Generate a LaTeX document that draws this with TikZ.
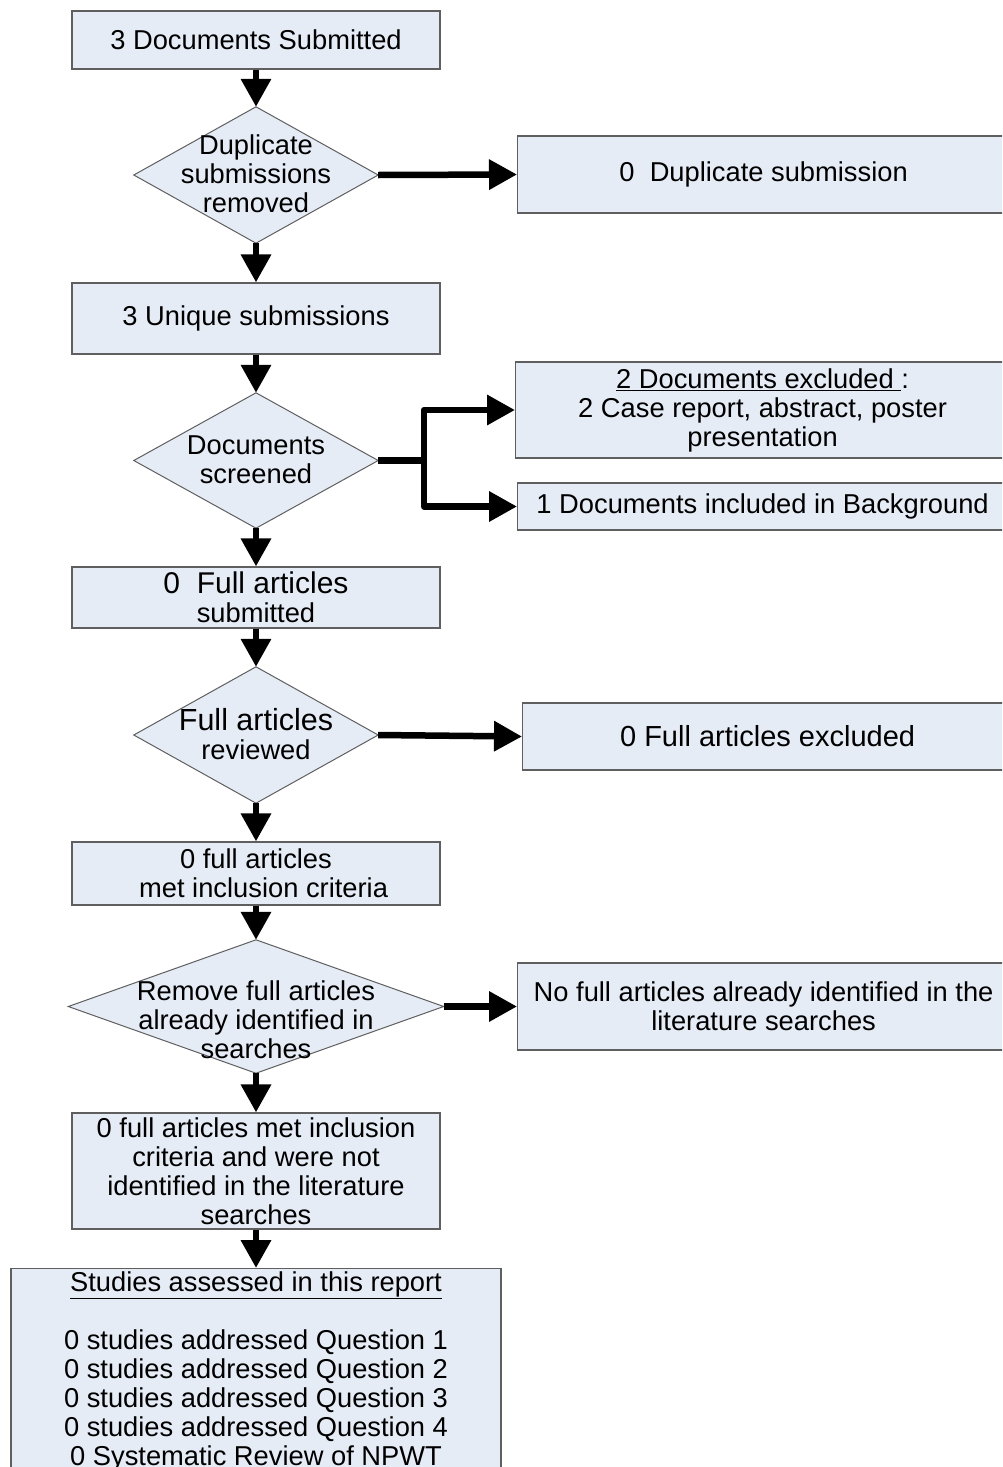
\documentclass[tikz,border=0pt]{standalone}
\usepackage{fontspec}
\setmainfont{Liberation Sans}
\usetikzlibrary{arrows.meta}
\definecolor{boxfill}{RGB}{230,236,246}
\definecolor{boxline}{RGB}{95,95,95}
\tikzset{
  box/.style={draw=boxline, fill=boxfill, line width=1.2pt, inner sep=0pt, align=center,
    font=\fontsize{27.3}{29}\selectfont},
  dshape/.style={inner sep=0pt, align=center},
  txt/.style={inner sep=0pt, align=center, font=\fontsize{27.3}{29}\selectfont},
  flow/.style={line width=6.5pt, -{Triangle[length=28pt,width=29pt]}},
  flowline/.style={line width=6.5pt},
}
\newcommand{\diam}[1]{\fill[boxfill] (#1.north) -- (#1.east) -- (#1.south) -- (#1.west) -- cycle;
  \draw[boxline, line width=1pt] (#1.north) -- (#1.east) -- (#1.south) -- (#1.west) -- cycle;}
\begin{document}
\begin{tikzpicture}[x=1pt,y=-1pt]
\useasboundingbox (0,0) rectangle (1002,1467);
\clip (0,0) rectangle (1002,1467);
\fill[white] (0,0) rectangle (1002,1467);

% left column boxes
\node[box, minimum width=368, minimum height=58] (b1) at (256,40) {3 Documents Submitted};
\node[box, minimum width=368, minimum height=71] (b2) at (256,318.5) {3 Unique submissions};
\node[box, minimum width=368, minimum height=61] (b3) at (256,597.5) {{\fontsize{30}{30}\selectfont 0\ \ Full articles}\\submitted};
\node[box, minimum width=368, minimum height=63] (b4) at (256,873.5) {0 full articles\\\ \ met inclusion criteria};
\node[box, minimum width=368, minimum height=116] (b5) at (256,1171) {0 full articles met inclusion\\criteria and were not\\identified in the literature\\searches};
\node[box, minimum width=490, minimum height=230, anchor=north] (b6) at (256,1268) {};
\node[txt, anchor=north] (t6) at (256,1271) {\underline{Studies assessed in this report}\\[29pt]0 studies addressed Question 1\\0 studies addressed Question 2\\0 studies addressed Question 3\\0 studies addressed Question 4\\0 Systematic Review of NPWT};

% diamonds
\node[dshape, minimum width=244, minimum height=136] (d1) at (256,175) {};
\diam{d1}
\node[txt] at (256,174) {Duplicate\\submissions\\removed};
\node[dshape, minimum width=244, minimum height=135] (d2) at (256,460.5) {};
\diam{d2}
\node[txt] at (256,460) {Documents\\screened};
\node[dshape, minimum width=244, minimum height=136] (d3) at (256,735) {};
\diam{d3}
\node[txt] at (256,734) {{\fontsize{30.5}{30}\selectfont Full articles}\\reviewed};
\node[dshape, minimum width=375, minimum height=133] (d4) at (256,1006.5) {};
\diam{d4}
\node[txt] at (256,1020) {Remove full articles\\already identified in\\searches};

% right boxes
\node[box, minimum width=492, minimum height=77, anchor=west] (r1) at (517,174.5) {0\ \ Duplicate submission};
\node[box, minimum width=494, minimum height=96, anchor=west] (r2) at (515,410) {\underline{2 Documents excluded }:\\2 Case report, abstract, poster\\presentation};
\node[box, minimum width=490, minimum height=47, anchor=west] (r3) at (517,506.5) {1 Documents included in Background};
\node[box, minimum width=490, minimum height=67, anchor=west, font=\fontsize{29}{29}\selectfont] (r4) at (522,736.5) {0 Full articles excluded};
\node[box, minimum width=492, minimum height=87, anchor=west] (r5) at (517,1006.5) {No full articles already identified in the\\literature searches};

% vertical arrows
\draw[flow] (b1.south) -- (d1.north);
\draw[flow] (d1.south) -- (b2.north);
\draw[flow] (b2.south) -- (d2.north);
\draw[flow] (d2.south) -- (b3.north);
\draw[flow] (b3.south) -- (d3.north);
\draw[flow] (d3.south) -- (b4.north);
\draw[flow] (b4.south) -- (d4.north);
\draw[flow] (d4.south) -- (b5.north);
\draw[flow] (b5.south) -- (b6.north);

% horizontal arrows
\draw[flow] (d1.east) -- (r1.west);
\coordinate (j) at (424,460.5);
\draw[flowline] (d2.east) -- (j);
\draw[flow, line join=round] (j) |- (r2.west);
\draw[flow, line join=round] (j) |- (r3.west);
\draw[flow] (d3.east) -- (r4.west);
\draw[flow] (d4.east) -- (r5.west);
\end{tikzpicture}
\end{document}
